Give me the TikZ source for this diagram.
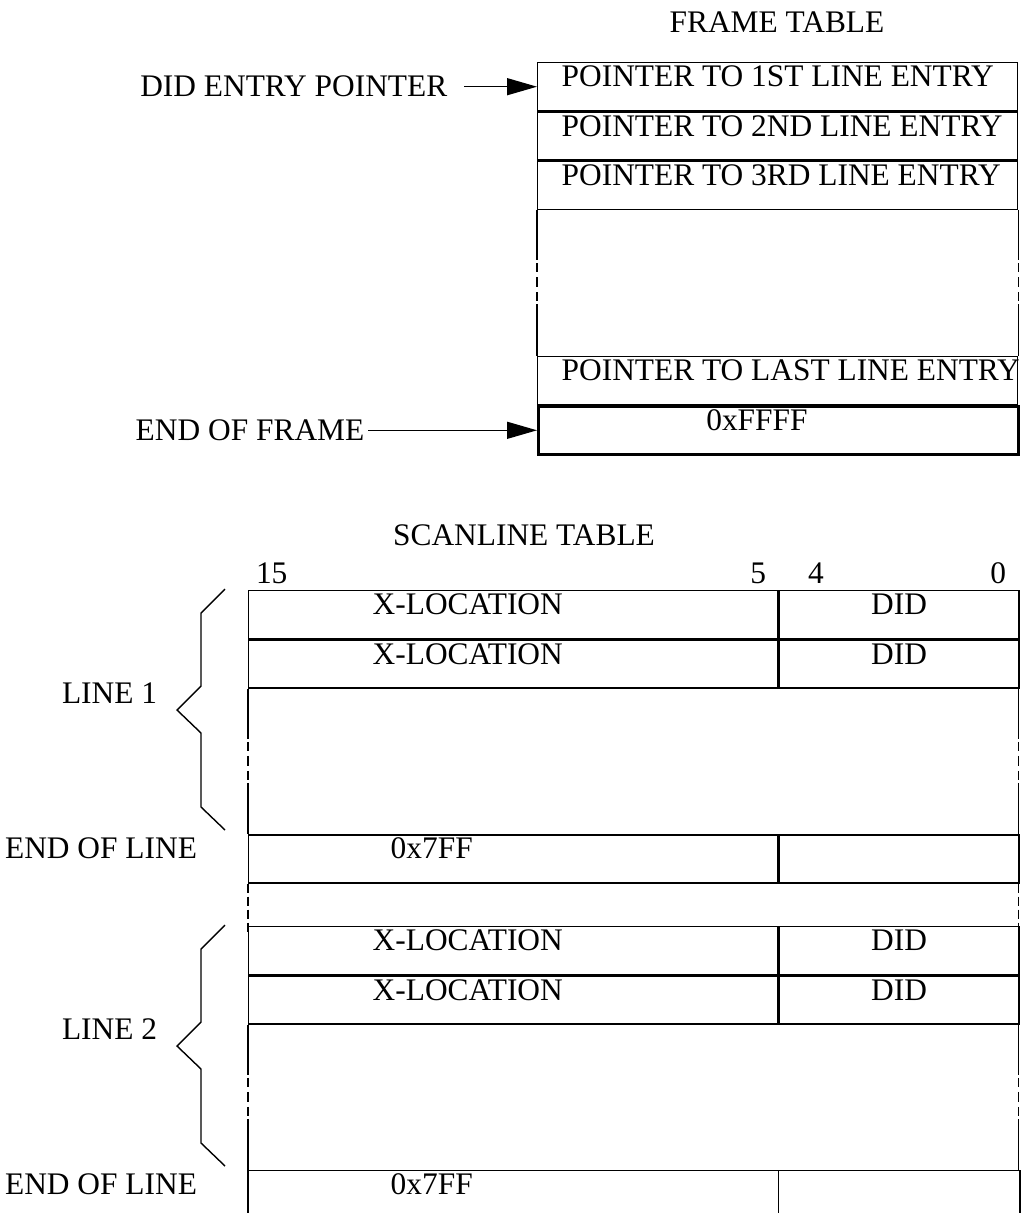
\documentclass[tikz,border=0pt]{standalone}
\usepackage{fontspec}
\setmainfont{Liberation Serif}
\usetikzlibrary{arrows.meta,positioning}

\newcommand{\offtext}[3]{\makebox[#1][l]{\hspace*{#2}#3}}

\begin{document}
\begin{tikzpicture}[x=1pt,y=-1pt,line width=1.4pt,
  font=\fontsize{31.4pt}{36pt}\selectfont,
  cell/.style={draw,inner sep=0pt,anchor=north west,text height=24pt,text depth=24pt,minimum width=#1},
  opencell/.style={cell=#1,draw=none},
  gapcell/.style={inner sep=0pt,anchor=north west,minimum width=#1,minimum height=144pt},
  brokenside/.style={dash pattern=on 50pt off 3pt on 9pt off 5pt on 10pt off 5pt on 9pt off 3pt on 60pt off 0pt},
  gapside/.style={dash pattern=on 9pt off 4pt},
  ptrarrow/.style={-{Triangle[length=30pt,width=17pt]}},
  lbl/.style={inner ysep=0pt}]
  \useasboundingbox (0,0) rectangle (1028,1213);
  % frame table, one row = 48pt
  \node[anchor=base] (ftitle) at (777,32) {FRAME TABLE};
  \node[cell=480pt] (ptr1) at (537,62) {\offtext{480pt}{24pt}{POINTER TO 1ST LINE ENTRY}};
  \node[cell=480pt] (ptr2) at (ptr1.south west) {\offtext{480pt}{24pt}{POINTER TO 2ND LINE ENTRY}};
  \node[cell=480pt] (ptr3) at (ptr2.south west) {\offtext{480pt}{24pt}{POINTER TO 3RD LINE ENTRY}};
  \node[gapcell=480pt] (fgap) at (ptr3.south west) {};
  \node[cell=480pt] (ptrlast) at (fgap.south west) {\offtext{480pt}{24pt}{POINTER TO LAST LINE ENTRY}};
  \node[cell=480pt,line width=2.6pt] (ffff) at (ptrlast.south west) {\offtext{480pt}{168pt}{0xFFFF}};
  \draw[brokenside] (fgap.north west) -- (fgap.south west);
  \draw[brokenside] (fgap.north east) -- (fgap.south east);
  \node[lbl,inner xsep=16pt,left=73pt of ptr1.west] (dep) {DID ENTRY POINTER};
  \node[lbl,inner xsep=3pt,left=169pt of ffff.west] (eof) {END OF FRAME};
  \draw[ptrarrow] (dep.east) -- (ptr1.west);
  \draw[ptrarrow] (eof.east) -- (ffff.west);

  % scanline table
  \node[anchor=base] (stitle) at (524,545) {SCANLINE TABLE};
  \node[anchor=base west] (b15) at (252,583) {15};
  \node[anchor=base east] (b5) at (770,583) {5};
  \node[anchor=base west] (b4) at (804,583) {4};
  \node[anchor=base east] (b0) at (1010,583) {0};
  \foreach \n/\y in {1/590,2/926}{
    \node[cell=529pt] (xa\n) at (248,\y) {\offtext{529pt}{124pt}{X-LOCATION}};
    \node[cell=240pt] (da\n) at (xa\n.north east) {DID};
    \node[cell=529pt] (xb\n) at (xa\n.south west) {\offtext{529pt}{124pt}{X-LOCATION}};
    \node[cell=240pt] (db\n) at (xb\n.north east) {DID};
    \node[gapcell=769pt] (gap\n) at (xb\n.south west) {};
    \draw[brokenside] (gap\n.north west) -- (gap\n.south west);
    \draw[brokenside] (gap\n.north east) -- (gap\n.south east);
    % brace
    \draw (225,\y-1) -- (201,\y+23) -- (201,\y+96) -- (177,\y+120) -- (201,\y+143) -- (201,\y+217) -- (225,\y+240);
    \node[anchor=base west] (line\n) at (58,\y+113) {LINE \n};
  }
  \node[cell=529pt] (eol1) at (gap1.south west) {\offtext{529pt}{142pt}{0x7FF}};
  \node[cell=240pt] (eold1) at (eol1.north east) {};
  \node[gapcell=769pt,minimum height=48pt] (midgap) at (eol1.south west) {};
  \draw[gapside] (midgap.north west) -- (midgap.south west);
  \draw[gapside] (midgap.north east) -- (midgap.south east);
  \node[opencell=529pt] (eol2) at (gap2.south west) {\offtext{529pt}{142pt}{0x7FF}};
  \node[opencell=240pt] (eold2) at (eol2.north east) {};
  \draw (eol2.south west) -- (eol2.north west) -- (eold2.north east) -- (eold2.south east);
  \draw (eold2.north west) -- (eold2.south west);
  \node[anchor=base east] (eoll1) at ([xshift=-47pt]eol1.base west) {END OF LINE};
  \node[anchor=base east] (eoll2) at ([xshift=-47pt]eol2.base west) {END OF LINE};
\end{tikzpicture}
\end{document}
